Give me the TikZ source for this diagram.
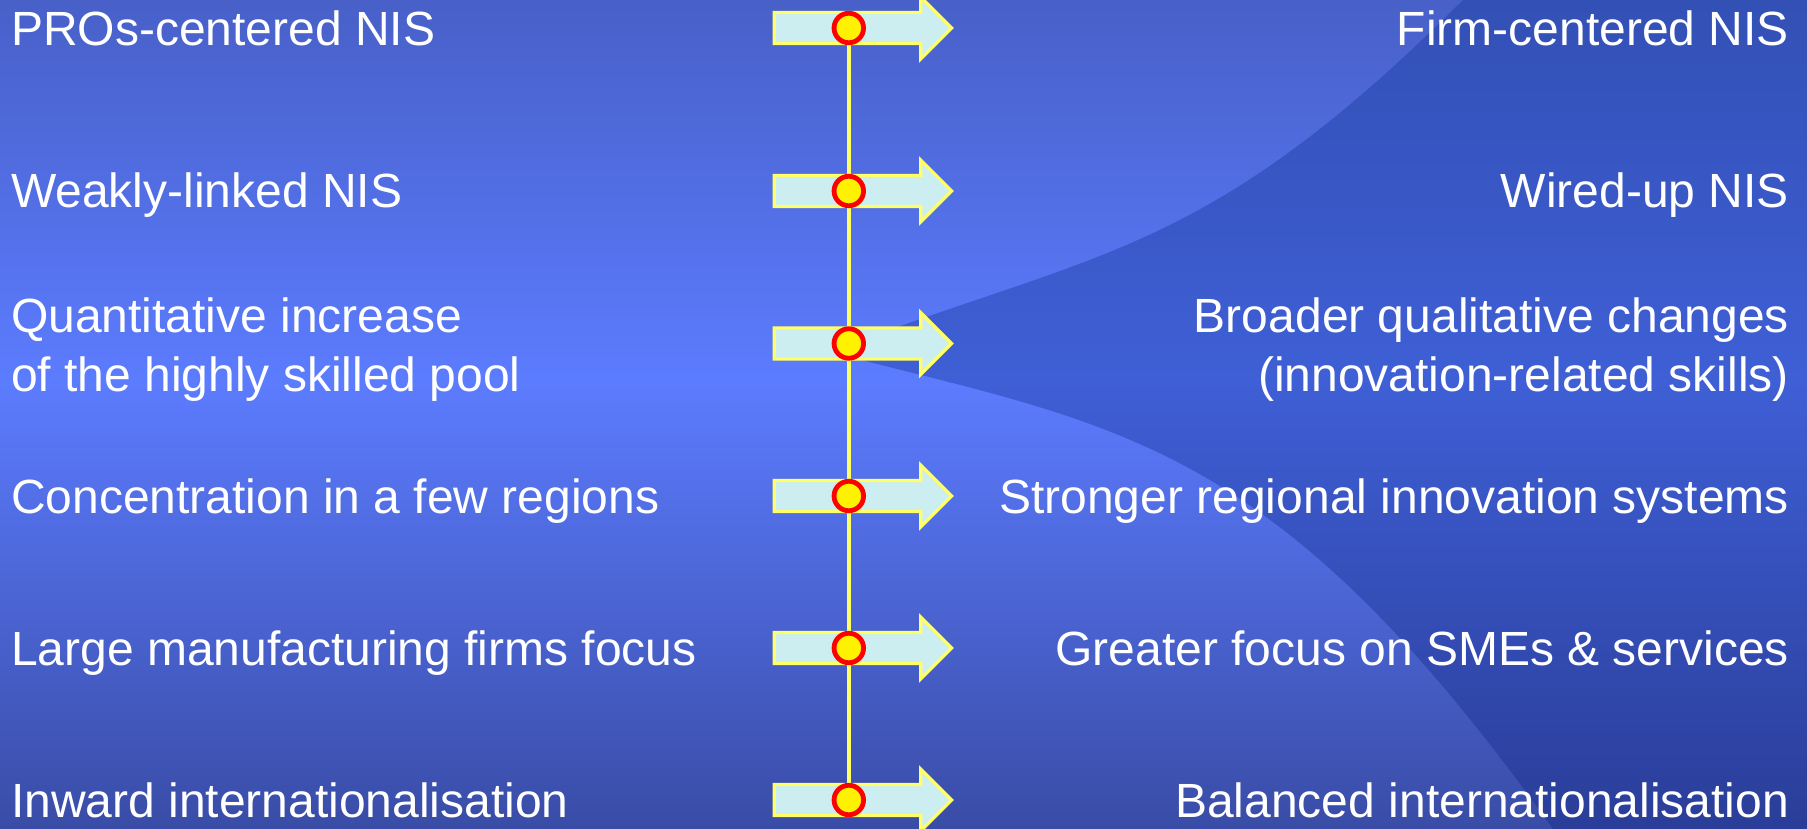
\documentclass[tikz,border=0pt]{standalone}
\usepackage{fontspec}
\setmainfont{Liberation Sans}
\usetikzlibrary{shapes.arrows,backgrounds}
\definecolor{bgT}{HTML}{4860C8}
\definecolor{bgM}{HTML}{5C7CFF}
\definecolor{bgB}{HTML}{394CA6}
\definecolor{dkT}{HTML}{3350B5}
\definecolor{dkM}{HTML}{3F5FD6}
\definecolor{dkB}{HTML}{2A3D98}
\definecolor{arrfill}{HTML}{CCEEF0}
\definecolor{arrline}{HTML}{FFFF66}
\tikzset{
  lbl/.style={text=white, font=\fontsize{48}{58.5}\selectfont, inner sep=0pt, outer sep=0pt},
  shiftarrow/.style={single arrow, draw=arrline, fill=arrfill, line width=3.2pt,
    minimum height=177.4pt, text height=14pt, text depth=14pt, text width=0pt,
    single arrow head extend=15.4pt, single arrow tip angle=90,
    inner sep=0pt, outer sep=0pt, anchor=tip},
  dot/.style={circle, fill=yellow, draw=red, line width=4.8pt, minimum size=29.5pt, inner sep=0pt, outer sep=0pt},
  spine/.style={draw=arrline, line width=4.4pt}
}
\begin{document}
\begin{tikzpicture}[x=1pt,y=-1pt]
\useasboundingbox (0,0) rectangle (1807,829);
% arrows and dots
\foreach \i/\y in {1/28,2/191,3/343.5,4/496,5/648,6/800}{
  \node[shiftarrow] (a\i) at (951.7,\y) {};
  \node[dot] (c\i) at (848.8,\y) {};
}
\begin{pgfonlayer}{background}
% background
\shade[top color=bgT, bottom color=bgM] (0,0) rectangle (1807,382);
\shade[top color=bgM, bottom color=bgB] (0,381) rectangle (1807,829);
\begin{scope}
\clip (1463,0) .. controls (1203,260) and (1095,250) .. (830,352)
  .. controls (1120,427) and (1273,437) .. (1553,829) -- (1807,829) -- (1807,0) -- cycle;
\shade[top color=dkT, bottom color=dkM] (0,0) rectangle (1807,382);
\shade[top color=dkM, bottom color=dkB] (0,381) rectangle (1807,829);
\end{scope}
% spine
\draw[spine] (c1.center) -- (c6.center);
\end{pgfonlayer}
% left labels
\node[lbl, anchor=base west] (l1) at (11,46) {PROs-centered NIS};
\node[lbl, anchor=base west] (l2) at (11,208) {Weakly-linked NIS};
\node[lbl, anchor=north west, align=left] (l3) at (11,298) {Quantitative increase\\of the highly skilled pool};
\node[lbl, anchor=base west] (l4) at (11,513) {Concentration in a few regions};
\node[lbl, anchor=base west] (l5) at (11,665) {Large manufacturing firms focus};
\node[lbl, anchor=base west] (l6) at (11,817) {Inward internationalisation};
% right labels
\node[lbl, anchor=base east] (r1) at (1789,46) {Firm-centered NIS};
\node[lbl, anchor=base east] (r2) at (1789,208) {Wired-up NIS};
\node[lbl, anchor=north east, align=right] (r3) at (1789,298) {Broader qualitative changes\\(innovation-related skills)};
\node[lbl, anchor=base east] (r4) at (1789,513) {Stronger regional innovation systems};
\node[lbl, anchor=base east] (r5) at (1789,665) {Greater focus on SMEs \& services};
\node[lbl, anchor=base east] (r6) at (1789,817) {Balanced internationalisation};
\end{tikzpicture}
\end{document}
